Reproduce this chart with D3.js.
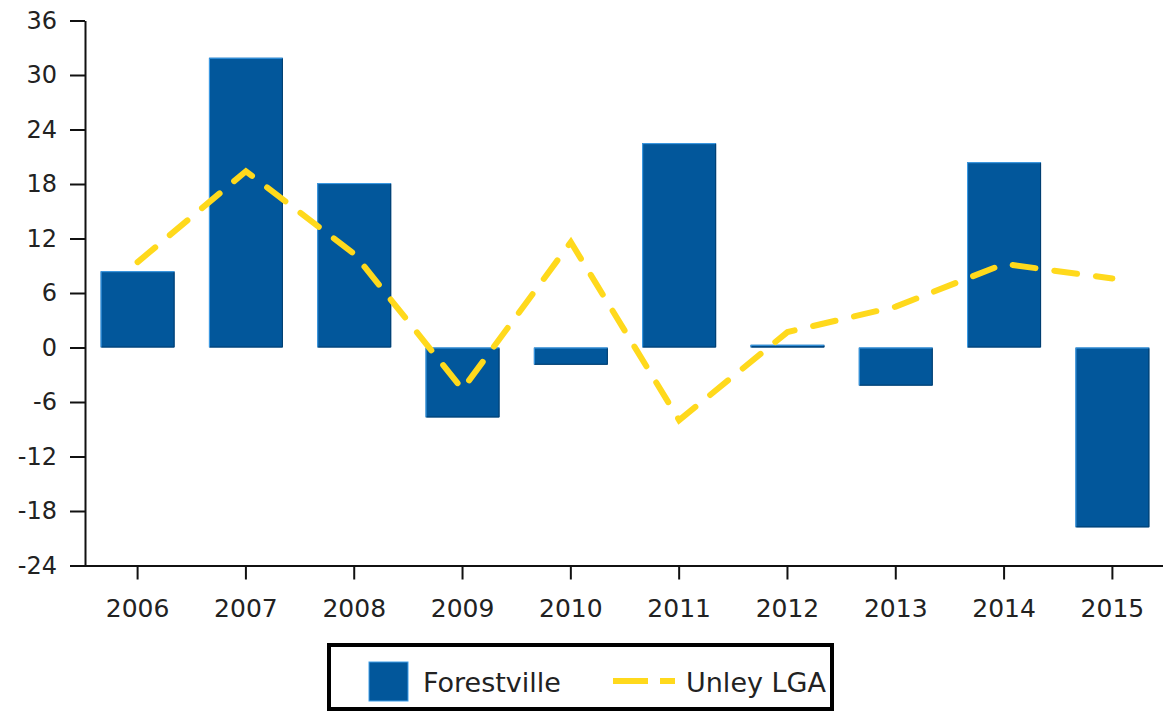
<!DOCTYPE html>
<html>
<head>
<meta charset="utf-8">
<script src="https://cdn.jsdelivr.net/npm/d3@7"></script>
<style>
  body { margin: 0; background: #fff; }
  text { font-family: "DejaVu Sans", Verdana, sans-serif; fill: #222; }
</style>
</head>
<body>
<div id="chart"></div>
<script>
// values
var years = ['2006','2007','2008','2009','2010','2011','2012','2013','2014','2015'];
var forestville = [8.4, 31.9, 18.1, -7.7, -1.9, 22.5, 0.3, -4.2, 20.4, -19.8];
var unley = [9.4, 19.4, 10.3, -4.6, 11.6, -8.0, 1.7, 4.5, 9.2, 7.6];
var yTicks = [-24, -18, -12, -6, 0, 6, 12, 18, 24, 30, 36];
var seriesNames = ['Forestville', 'Unley LGA'];

var width = 1163, height = 713;
var barColor = '#02579b', lineColor = '#ffd91c';

var svg = d3.select('#chart').append('svg')
	.attr('width', width)
	.attr('height', height);

var x = d3.scaleBand()
	.domain(years)
	.range([83.5, 1166.5])
	.paddingInner(0.317)
	.paddingOuter(0.158);

var y = d3.scaleLinear()
	.domain([-24, 36])
	.range([565.5, 20.5]);

var data = years.map(function(d, i) {
	return {year: d, bar: forestville[i], line: unley[i]};
});

// bars
var bars = svg.append('g').selectAll('g.bar')
	.data(data)
	.enter().append('g')
	.attr('class', 'bar');

bars.append('rect')
	.attr('x', function(d) { return x(d.year); })
	.attr('y', function(d) { return y(Math.max(0, d.bar)); })
	.attr('width', x.bandwidth())
	.attr('height', function(d) { return Math.abs(y(d.bar) - y(0)); })
	.attr('fill', barColor);

// little bevel: light left/top edge, dark right/bottom edge
bars.append('path')
	.attr('d', function(d) {
		var x0 = x(d.year) + 0.5, y0 = y(Math.max(0, d.bar)) + 0.5;
		var y1 = y(Math.min(0, d.bar)) - 0.5;
		return 'M' + x0 + ',' + y1 + 'V' + y0 + 'H' + (x0 + x.bandwidth() - 1);
	})
	.attr('fill', 'none')
	.attr('stroke', '#3f9ee8')
	.attr('stroke-width', 1);

bars.append('path')
	.attr('d', function(d) {
		var x1 = x(d.year) + x.bandwidth() - 0.5, y0 = y(Math.max(0, d.bar)) + 1;
		var y1 = y(Math.min(0, d.bar)) - 0.5;
		return 'M' + x1 + ',' + y0 + 'V' + y1 + 'H' + (x(d.year) + 1);
	})
	.attr('fill', 'none')
	.attr('stroke', '#013d6e')
	.attr('stroke-width', 1);

// axes
var yAxis = svg.append('g')
	.attr('transform', 'translate(85,0)')
	.call(d3.axisLeft(y).tickValues(yTicks)
		.tickFormat(function(d) { return String(d); })  // plain hyphen, not unicode minus
		.tickSize(15).tickSizeOuter(0).tickPadding(13));

yAxis.selectAll('text').style('font-size', '24px');

var xAxis = svg.append('g')
	.attr('transform', 'translate(0,' + y(-24) + ')')
	.call(d3.axisBottom(x).tickSize(14).tickSizeOuter(0).tickPadding(20));

xAxis.selectAll('text').style('font-size', '25px');

svg.selectAll('.domain, .tick line')
	.attr('stroke', '#111')
	.attr('stroke-width', 2);
svg.selectAll('.tick text').attr('fill', '#222');

// dashed line series
var line = d3.line()
	.x(function(d) { return x(d.year) + x.bandwidth() / 2; })
	.y(function(d) { return y(d.line); });

svg.append('path')
	.datum(data)
	.attr('d', line)
	.attr('fill', 'none')
	.attr('stroke', lineColor)
	.attr('stroke-width', 6)
	.attr('stroke-linecap', 'round')
	.attr('stroke-dasharray', '23,19');

// legend
var legend = svg.append('g').attr('class', 'legend');

legend.append('rect')
	.attr('x', 329).attr('y', 645)
	.attr('width', 503).attr('height', 64)
	.attr('fill', '#fff')
	.attr('stroke', '#000')
	.attr('stroke-width', 4);

legend.append('rect')
	.attr('x', 369).attr('y', 662)
	.attr('width', 39).attr('height', 39)
	.attr('fill', barColor)
	.attr('stroke', '#3f9ee8')
	.attr('stroke-width', 1);

legend.append('text')
	.attr('x', 423).attr('y', 692)
	.style('font-size', '27px')
	.text(seriesNames[0]);

legend.append('line')
	.attr('x1', 613).attr('x2', 675)
	.attr('y1', 681).attr('y2', 681)
	.attr('stroke', lineColor)
	.attr('stroke-width', 6)
	.attr('stroke-dasharray', '35,12');

legend.append('text')
	.attr('x', 686).attr('y', 692)
	.style('font-size', '27px')
	.text(seriesNames[1]);
</script>
</body>
</html>
